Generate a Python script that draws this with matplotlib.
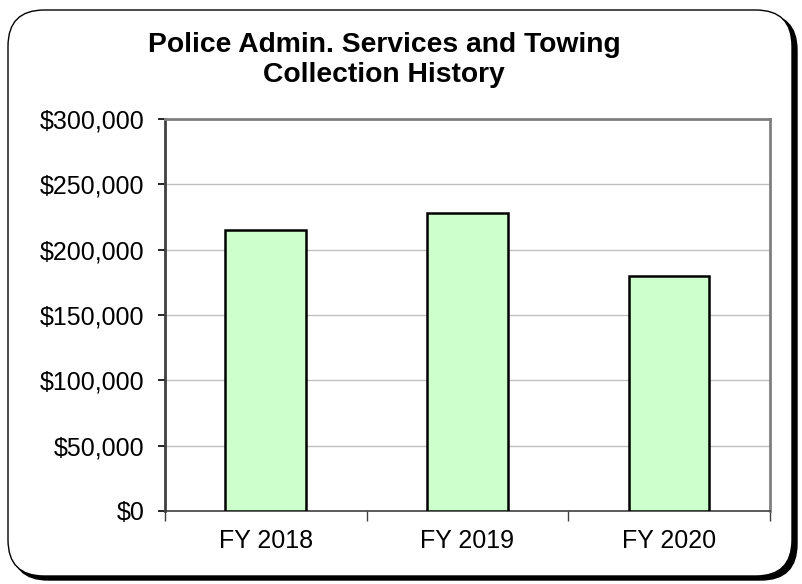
import matplotlib.pyplot as plt
from matplotlib.patches import FancyBboxPatch
from matplotlib.ticker import FuncFormatter

plt.rcParams["font.family"] = ["Liberation Sans", "DejaVu Sans"]

years = ["FY 2018", "FY 2019", "FY 2020"]
collections = [215000, 228000, 179500]
title = "Police Admin. Services and Towing\nCollection History"

W, H = 803, 584
fig = plt.figure(figsize=(W / 100, H / 100), dpi=100)

# rounded chart frame with shadow
shadow = FancyBboxPatch((12 / W, 4 / H), 785 / W, 566 / H,
                        boxstyle="round,pad=0,rounding_size=0.045",
                        transform=fig.transFigure, facecolor="black",
                        edgecolor="black", lw=1, mutation_aspect=W / H, zorder=-2)
frame = FancyBboxPatch((8 / W, 8 / H), 784 / W, 566 / H,
                       boxstyle="round,pad=0,rounding_size=0.045",
                       transform=fig.transFigure, facecolor="white",
                       edgecolor="black", lw=1, mutation_aspect=W / H, zorder=-1)
fig.patches.extend([shadow, frame])

ax = fig.add_axes([165 / W, (H - 511) / H, 605 / W, 392 / H])
ax.patch.set_alpha(0)
x = range(len(years))
ax.bar(x, collections, width=0.4, color="#CCFFCC", edgecolor="black",
       linewidth=1.8, zorder=3)
ax.set_xlim(-0.5, 2.5)
ax.set_ylim(0, 300000)
ax.set_yticks(range(0, 300001, 50000))
ax.yaxis.set_major_formatter(FuncFormatter(lambda v, p: f"${v:,.0f}"))
ax.set_xticks(list(x))
ax.set_xticklabels(years)
ax.tick_params(axis="x", length=0, labelsize=18, pad=13)
ax.tick_params(axis="y", length=5, width=1.2, labelsize=18, pad=10)
# category boundary ticks
ax.set_xticks([-0.5, 0.5, 1.5, 2.5], minor=True)
ax.tick_params(axis="x", which="minor", length=7, width=1, color="#404040")

ax.grid(axis="y", color="#c0c0c0", lw=1, zorder=0)
for side in ["top", "right"]:
    ax.spines[side].set_color("#808080")
    ax.spines[side].set_linewidth(2)
ax.spines["left"].set_color("#404040")
ax.spines["left"].set_linewidth(2)
ax.spines["bottom"].set_color("#404040")
ax.spines["bottom"].set_linewidth(1.2)

fig.text(384 / W, 1 - 60 / H, title, ha="center", va="center",
         fontsize=20.3, fontweight="bold", linespacing=1.25)

fig.savefig("out.png", dpi=100)
